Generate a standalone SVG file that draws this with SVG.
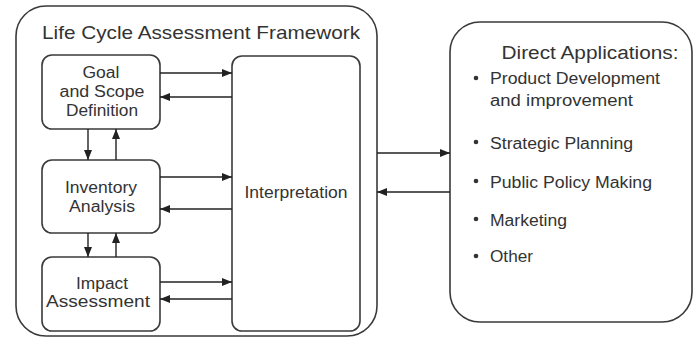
<svg xmlns="http://www.w3.org/2000/svg" width="694" height="338" viewBox="0 0 694 338">
<defs>
<marker id="ah" viewBox="0 0 10 8" refX="10" refY="4" markerWidth="10" markerHeight="8" markerUnits="userSpaceOnUse" orient="auto">
<path d="M0,0 L10,4 L0,8 Z" fill="#222"/>
</marker>
</defs>
<style>
.box{fill:#fff;stroke:#3a3a3a;stroke-width:1.6}
.t{font-family:"Liberation Sans",Arial,sans-serif;fill:#333;text-anchor:middle}
.b{font-family:"Liberation Sans",Arial,sans-serif;fill:#333;font-size:16px}
.c{stroke:#222;stroke-width:1.4;fill:none;marker-end:url(#ah)}
</style>
<rect width="694" height="338" fill="#fff"/>
<g id="framework">
<rect class="box" x="16" y="6" width="361" height="330" rx="30"/>
<text class="t" x="201" y="39" font-size="19" textLength="318" lengthAdjust="spacingAndGlyphs">Life Cycle Assessment Framework</text>
</g>
<g id="goal">
<rect class="box" x="42" y="55" width="118" height="74" rx="10"/>
<text class="t" x="101" y="78" font-size="16" textLength="37" lengthAdjust="spacingAndGlyphs">Goal</text>
<text class="t" x="102" y="97" font-size="16" textLength="85" lengthAdjust="spacingAndGlyphs">and Scope</text>
<text class="t" x="102" y="116" font-size="16" textLength="72" lengthAdjust="spacingAndGlyphs">Definition</text>
</g>
<g id="inventory">
<rect class="box" x="42" y="160" width="118" height="73" rx="10"/>
<text class="t" x="101" y="193" font-size="16" textLength="72" lengthAdjust="spacingAndGlyphs">Inventory</text>
<text class="t" x="102" y="212" font-size="16" textLength="66" lengthAdjust="spacingAndGlyphs">Analysis</text>
</g>
<g id="impact">
<rect class="box" x="42" y="257" width="118" height="74" rx="10"/>
<text class="t" x="102" y="289" font-size="16" textLength="52" lengthAdjust="spacingAndGlyphs">Impact</text>
<text class="t" x="98" y="307" font-size="16" textLength="104" lengthAdjust="spacingAndGlyphs">Assessment</text>
</g>
<g id="interpretation">
<rect class="box" x="232" y="56" width="128" height="275" rx="10"/>
<text class="t" x="296" y="198" font-size="16" textLength="103" lengthAdjust="spacingAndGlyphs">Interpretation</text>
</g>
<g id="applications">
<rect class="box" x="450" y="22" width="242" height="300" rx="30"/>
<text class="t" x="590" y="59" font-size="18" textLength="177" lengthAdjust="spacingAndGlyphs">Direct Applications:</text>
<circle cx="476" cy="78" r="2.3" fill="#333"/>
<text class="b" x="490" y="84" textLength="170" lengthAdjust="spacingAndGlyphs">Product Development</text>
<text class="b" x="490" y="106" textLength="143" lengthAdjust="spacingAndGlyphs">and improvement</text>
<circle cx="476" cy="142" r="2.3" fill="#333"/>
<text class="b" x="490" y="149" textLength="143" lengthAdjust="spacingAndGlyphs">Strategic Planning</text>
<circle cx="476" cy="181" r="2.3" fill="#333"/>
<text class="b" x="490" y="188" textLength="162" lengthAdjust="spacingAndGlyphs">Public Policy Making</text>
<circle cx="476" cy="219" r="2.3" fill="#333"/>
<text class="b" x="490" y="226" textLength="77" lengthAdjust="spacingAndGlyphs">Marketing</text>
<circle cx="476" cy="256" r="2.3" fill="#333"/>
<text class="b" x="490" y="262" textLength="43" lengthAdjust="spacingAndGlyphs">Other</text>
</g>
<g id="connectors">
<line class="c" x1="160" y1="73" x2="232" y2="73"/>
<line class="c" x1="232" y1="97" x2="160" y2="97"/>
<line class="c" x1="160" y1="177" x2="232" y2="177"/>
<line class="c" x1="232" y1="209" x2="160" y2="209"/>
<line class="c" x1="160" y1="282" x2="232" y2="282"/>
<line class="c" x1="232" y1="299" x2="160" y2="299"/>
<line class="c" x1="88" y1="129" x2="88" y2="160"/>
<line class="c" x1="116" y1="160" x2="116" y2="129"/>
<line class="c" x1="88" y1="233" x2="88" y2="257"/>
<line class="c" x1="116" y1="257" x2="116" y2="233"/>
<line class="c" x1="377" y1="153" x2="450" y2="153"/>
<line class="c" x1="450" y1="192" x2="377" y2="192"/>
</g>
</svg>
